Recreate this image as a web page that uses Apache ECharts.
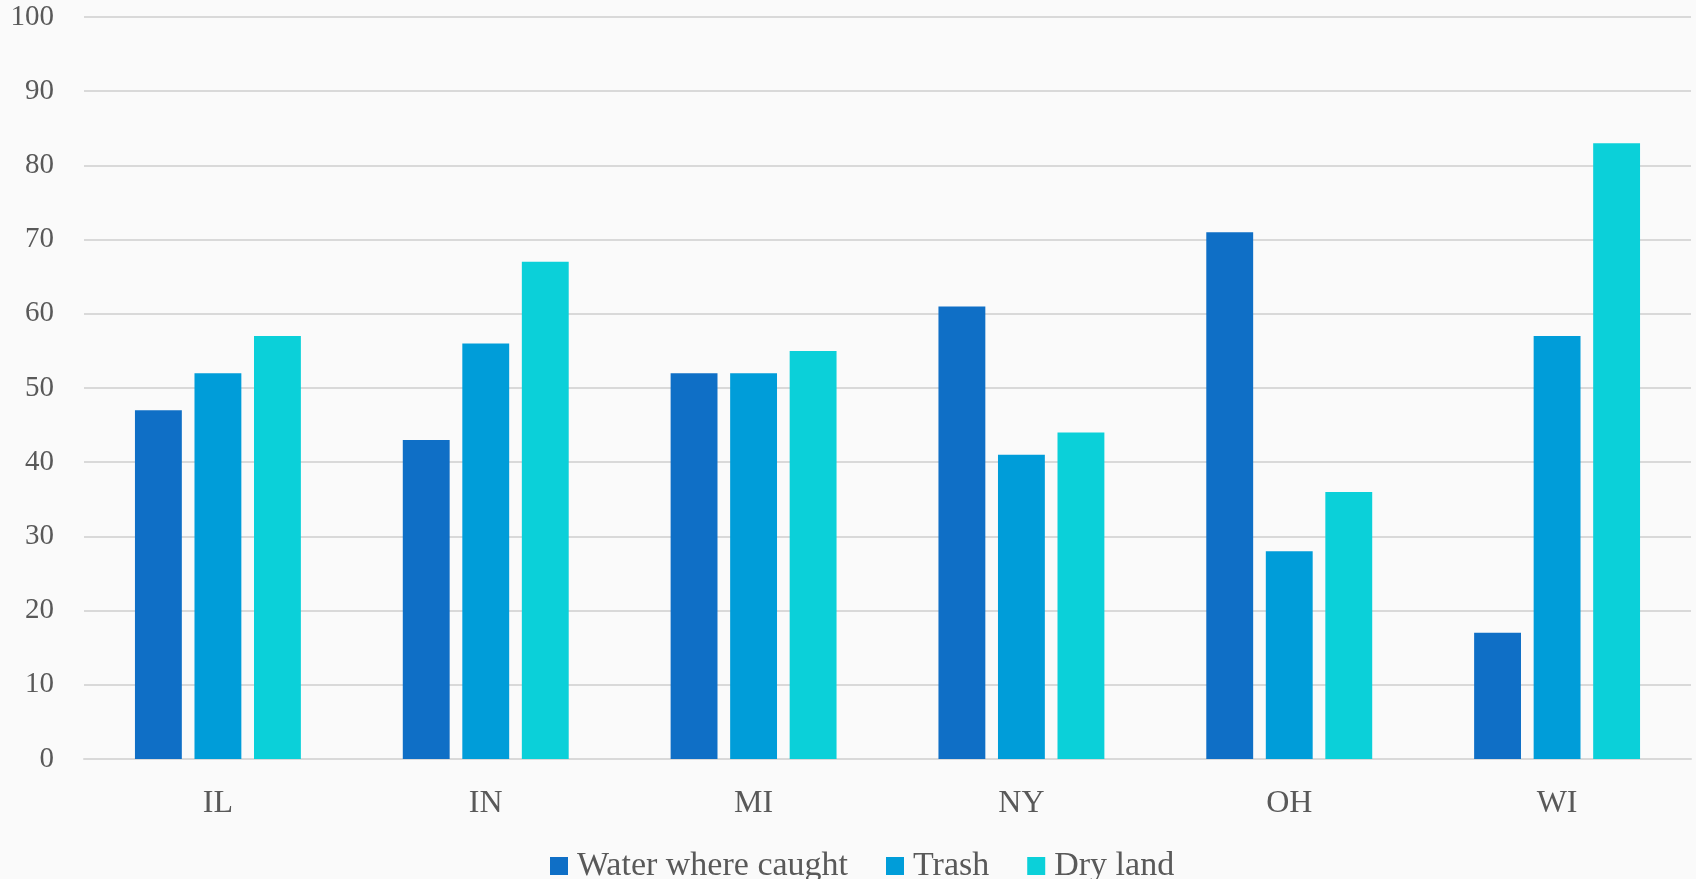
<!DOCTYPE html>
<html>
<head>
<meta charset="utf-8">
<style>
  html, body { margin: 0; padding: 0; background: #fafafa; }
  #chart { width: 1696px; height: 879px; }
</style>
<script src="https://cdn.jsdelivr.net/npm/echarts@6/dist/echarts.min.js"></script>
</head>
<body>
<div id="chart"></div>
<script>
// data
var states = ['IL', 'IN', 'MI', 'NY', 'OH', 'WI']
var water = [47, 43, 52, 61, 71, 17]
var trash = [52, 56, 52, 41, 28, 57]
var dryLand = [57, 67, 55, 44, 36, 83]

var textColor = '#595959'
var font = '"Liberation Serif", "DejaVu Serif", serif'

var chart = echarts.init(document.getElementById('chart'))
var option = {
  backgroundColor: '#fafafa',
  color: ['#0F6FC6', '#009DD9', '#0BD0D9'],
  textStyle: { fontFamily: font },
  grid: {
    left: 84,
    right: 5,
    top: 17,
    bottom: 120,
    containLabel: false
  },
  legend: {
    left: 545,
    top: 844,
    itemWidth: 18,
    itemHeight: 18,
    itemGap: 38,
    icon: 'rect',
    textStyle: { color: textColor, fontSize: 34, lineHeight: 34, fontFamily: font, padding: [0, 0, 0, 4] },
    data: ['Water where caught', 'Trash', 'Dry land']
  },
  xAxis: {
    type: 'category',
    data: states,
    axisTick: { show: false },
    axisLine: { lineStyle: { color: '#D9D9D9', width: 2 } },
    axisLabel: { color: textColor, fontSize: 32, margin: 29, fontFamily: font }
  },
  yAxis: {
    type: 'value',
    min: 0,
    max: 100,
    interval: 10,
    axisLine: { show: false },
    axisTick: { show: false },
    splitLine: { lineStyle: { color: '#D9D9D9', width: 2 } },
    axisLabel: { color: textColor, fontSize: 29, margin: 30, fontFamily: font }
  },
  series: [
    { name: 'Water where caught', type: 'bar', data: water, barWidth: '17.5%', barGap: '27%' },
    { name: 'Trash', type: 'bar', data: trash, barWidth: '17.5%', barGap: '27%' },
    { name: 'Dry land', type: 'bar', data: dryLand, barWidth: '17.5%', barGap: '27%' }
  ]
}
chart.setOption(option)
</script>
</body>
</html>
